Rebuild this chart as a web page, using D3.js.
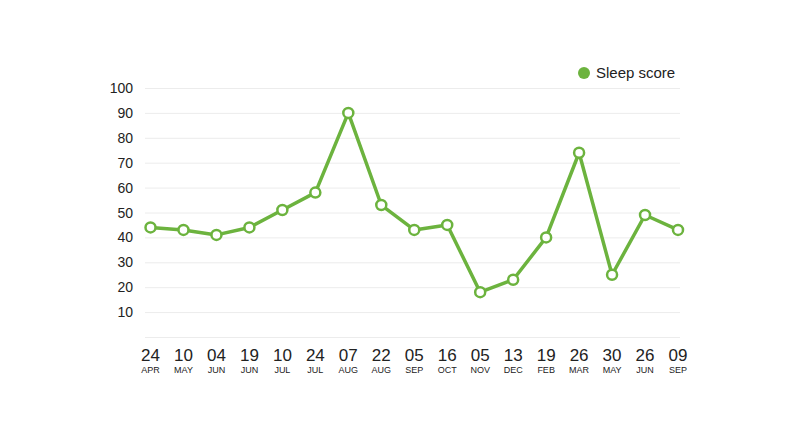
<!DOCTYPE html>
<html>
<head>
<meta charset="utf-8">
<script src="https://cdn.jsdelivr.net/npm/d3@7"></script>
<style>
  html, body { margin: 0; padding: 0; background: #fff; }
  svg { display: block; font-family: "Liberation Sans", Arial, sans-serif; }
</style>
</head>
<body>
<div id="chart"></div>
<script>
// data
const days = ['24', '10', '04', '19', '10', '24', '07', '22', '05', '16', '05', '13', '19', '26', '30', '26', '09']
const months = ['APR', 'MAY', 'JUN', 'JUN', 'JUL', 'JUL', 'AUG', 'AUG', 'SEP', 'OCT', 'NOV', 'DEC', 'FEB', 'MAR', 'MAY', 'JUN', 'SEP']
const scores = [44, 43, 41, 44, 51, 58, 90, 53, 43, 45, 18, 23, 40, 74, 25, 49, 43]
const yTicks = [10, 20, 30, 40, 50, 60, 70, 80, 90, 100]
const seriesName = 'Sleep score'

const width = 800
const height = 439
const green = '#6cb33e'

const svg = d3.select('#chart')
  .append('svg')
  .attr('width', width)
  .attr('height', height)

const x = d3.scalePoint()
  .domain(d3.range(scores.length))
  .range([150.5, 678])

const y = d3.scaleLinear()
  .domain([0, 100])
  .range([337, 88])

// grid lines (including the baseline at 0)
svg.append('g')
  .selectAll('line')
  .data([0].concat(yTicks))
  .join('line')
  .attr('x1', 145)
  .attr('x2', 680)
  .attr('y1', (d) => y(d) + 0.5)
  .attr('y2', (d) => y(d) + 0.5)
  .attr('stroke', '#ececec')
  .attr('stroke-width', 1)

// y labels
svg.append('g')
  .selectAll('text')
  .data(yTicks)
  .join('text')
  .attr('x', 133)
  .attr('y', (d) => y(d))
  .attr('dy', '0.36em')
  .attr('text-anchor', 'end')
  .attr('font-size', 14)
  .attr('fill', '#222')
  .text((d) => d)

// x labels: day on top, month below
const xl = svg.append('g')
  .selectAll('g')
  .data(days)
  .join('g')
  .attr('transform', (d, i) => `translate(${x(i)},0)`)

xl.append('text')
  .attr('y', 361)
  .attr('text-anchor', 'middle')
  .attr('font-size', 17)
  .attr('fill', '#222')
  .text((d) => d)

xl.append('text')
  .attr('y', 373)
  .attr('text-anchor', 'middle')
  .attr('font-size', 9)
  .attr('fill', '#222')
  .text((d, i) => months[i])

// line
const line = d3.line()
  .x((d, i) => x(i))
  .y((d) => y(d))

svg.append('path')
  .datum(scores)
  .attr('d', line)
  .attr('fill', 'none')
  .attr('stroke', green)
  .attr('stroke-width', 3.5)
  .attr('stroke-linejoin', 'round')

svg.append('g')
  .selectAll('circle')
  .data(scores)
  .join('circle')
  .attr('cx', (d, i) => x(i))
  .attr('cy', (d) => y(d))
  .attr('r', 5)
  .attr('fill', '#fff')
  .attr('stroke', green)
  .attr('stroke-width', 2.5)

// legend
const legend = svg.append('g')
legend.append('circle')
  .attr('cx', 584)
  .attr('cy', 73)
  .attr('r', 6)
  .attr('fill', green)
legend.append('text')
  .attr('x', 596)
  .attr('y', 73)
  .attr('dy', '0.36em')
  .attr('font-size', 15)
  .attr('fill', '#222')
  .text(seriesName)
</script>
</body>
</html>
